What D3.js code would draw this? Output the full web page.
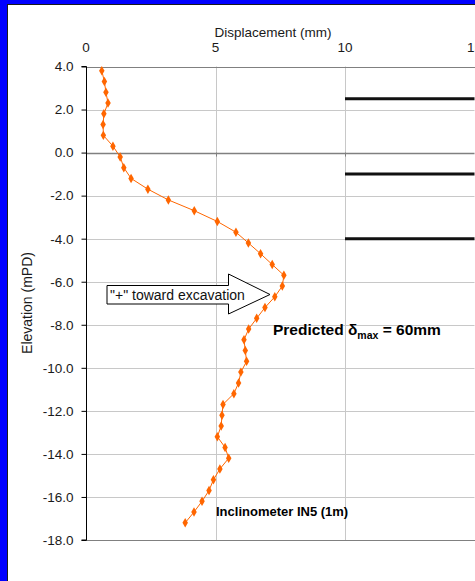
<!DOCTYPE html>
<html>
<head>
<meta charset="utf-8">
<script src="https://cdn.jsdelivr.net/npm/d3@7"></script>
<style>
  html, body { margin: 0; padding: 0; background: #0000ff; }
  svg { display: block; font-family: "Liberation Sans", Arial, sans-serif; }
</style>
</head>
<body>
<svg id="chart" width="475" height="581"></svg>
<script>
// Inclinometer IN5 readings
const elevation = [3.8, 3.3, 2.8, 2.3, 1.8, 1.3, 0.8, 0.3, -0.2, -0.7, -1.2, -1.7, -2.2, -2.7,
  -3.2, -3.7, -4.2, -4.7, -5.2, -5.7, -6.2, -6.7, -7.2, -7.7, -8.2,
  -8.7, -9.2, -9.7, -10.2, -10.7, -11.2, -11.7, -12.2, -12.7, -13.2, -13.7,
  -14.2, -14.7, -15.2, -15.7, -16.2, -16.7, -17.2];
const displacement = [0.61, 0.71, 0.77, 0.85, 0.69, 0.66, 0.67, 1.04, 1.32, 1.46, 1.74, 2.39, 3.18, 4.18,
  5.07, 5.79, 6.27, 6.74, 7.19, 7.64, 7.58, 7.29, 6.91, 6.59, 6.28,
  6.10, 6.15, 6.20, 5.98, 5.89, 5.71, 5.29, 5.25, 5.22, 5.07, 5.37,
  5.51, 5.17, 4.92, 4.75, 4.48, 4.17, 3.83];

// strut levels (drawn from 10 to 15 mm)
const strutLevels = [2.5, -1.0, -4.0];

const xTicks = [0, 5, 10, 15];
const yTicks = [4, 2, 0, -2, -4, -6, -8, -10, -12, -14, -16, -18];

const width = 475;
const height = 581;

const x = d3.scaleLinear().domain([0, 15]).range([86, 474.5]);
const y = d3.scaleLinear().domain([4, -18]).range([66.5, 540]);

const svg = d3.select("#chart");

// blue frame + white panel
svg.append("rect")
  .attr("width", width).attr("height", height)
  .attr("fill", "#0000ff");
svg.append("rect")
  .attr("x", 7.5).attr("y", 4.5)
  .attr("width", width).attr("height", height)
  .attr("fill", "#ffffff")
  .attr("stroke", "#1a1a1a");

// gridlines
svg.append("g").selectAll("line")
  .data(yTicks.filter(d => d !== 0 && d !== 4 && d !== -18))
  .join("line")
  .attr("x1", x(0)).attr("x2", x(15))
  .attr("y1", d => Math.round(y(d)) + 0.5).attr("y2", d => Math.round(y(d)) + 0.5)
  .attr("stroke", "#c8c8c8");

svg.append("g").selectAll("line")
  .data([5, 10])
  .join("line")
  .attr("x1", d => Math.round(x(d)) + 0.5).attr("x2", d => Math.round(x(d)) + 0.5)
  .attr("y1", y(4)).attr("y2", y(-18))
  .attr("stroke", "#c8c8c8");

// plot border (top, right, bottom)
svg.append("path")
  .attr("d", `M${x(0)},${Math.round(y(4)) + 0.5}H${Math.round(x(15)) + 0.5}V${Math.round(y(-18)) + 0.5}H${x(0)}`)
  .attr("fill", "none")
  .attr("stroke", "#808080");

// x axis line crosses at elevation 0, labels placed on top
svg.append("line")
  .attr("x1", x(0)).attr("x2", x(15))
  .attr("y1", Math.round(y(0)) + 0.5).attr("y2", Math.round(y(0)) + 0.5)
  .attr("stroke", "#808080").attr("stroke-width", 1.5);
svg.append("g").selectAll("line")
  .data(xTicks)
  .join("line")
  .attr("x1", d => Math.round(x(d)) + 0.5).attr("x2", d => Math.round(x(d)) + 0.5)
  .attr("y1", y(0)).attr("y2", y(0) + 4)
  .attr("stroke", "#808080");

svg.append("g").selectAll("text")
  .data(xTicks)
  .join("text")
  .attr("x", d => x(d))
  .attr("y", 52)
  .attr("text-anchor", "middle")
  .attr("font-size", "13.5px")
  .attr("fill", "#1a1a1a")
  .text(d => d);

svg.append("text")
  .attr("x", 273).attr("y", 37)
  .attr("text-anchor", "middle")
  .attr("font-size", "13.5px")
  .attr("fill", "#1a1a1a")
  .text("Displacement (mm)");

// y axis
const fmt = d3.format(".1f");
const yAxis = d3.axisLeft(y)
  .tickValues(yTicks)
  .tickSize(5)
  .tickFormat(d => fmt(d).replace("\u2212", "-"));

const yg = svg.append("g")
  .attr("transform", `translate(${Math.round(x(0)) + 0.5},0)`)
  .call(yAxis);
yg.select(".domain").attr("stroke", "#000").attr("d", `M-5,${y(4)}H0V${y(-18)}H-5`);
yg.selectAll(".tick line").attr("stroke", "#000");
yg.selectAll(".tick text")
  .attr("x", -13)
  .attr("font-size", "13.5px")
  .attr("font-family", "'Liberation Sans', Arial, sans-serif")
  .attr("fill", "#1a1a1a");

svg.append("text")
  .attr("transform", `translate(32,303) rotate(-90)`)
  .attr("text-anchor", "middle")
  .attr("font-size", "14px")
  .attr("fill", "#1a1a1a")
  .text("Elevation (mPD)");

// strut lines
svg.append("g").selectAll("line")
  .data(strutLevels)
  .join("line")
  .attr("x1", x(10)).attr("x2", x(15))
  .attr("y1", d => y(d)).attr("y2", d => y(d))
  .attr("stroke", "#111")
  .attr("stroke-width", 3);

// series
const points = elevation.map((e, i) => [displacement[i], e]);

svg.append("path")
  .datum(points)
  .attr("fill", "none")
  .attr("stroke", "#ff6600")
  .attr("stroke-width", 1)
  .attr("d", d3.line().x(d => x(d[0])).y(d => y(d[1])));

svg.append("g").selectAll("path")
  .data(points)
  .join("path")
  .attr("transform", d => `translate(${x(d[0])},${y(d[1])})`)
  .attr("d", d3.symbol().type(d3.symbolDiamond).size(26))
  .attr("fill", "#ff6600");

// block arrow annotation
const arrowPts = [[107, 285.5], [228.5, 285.5], [228.5, 274], [270, 294.5], [228.5, 314], [228.5, 304], [107, 304]];
svg.append("path")
  .attr("d", d3.line()(arrowPts) + "Z")
  .attr("fill", "#fff")
  .attr("stroke", "#000")
  .attr("stroke-width", 1);

svg.append("text")
  .attr("x", 110).attr("y", 299.5)
  .attr("font-size", "14px")
  .attr("fill", "#111")
  .text("\"+\" toward excavation");

// predicted text
const pred = svg.append("text")
  .attr("x", 273).attr("y", 335)
  .attr("font-size", "15.5px")
  .attr("font-weight", "bold")
  .attr("fill", "#000");
pred.append("tspan").text("Predicted δ");
pred.append("tspan").attr("font-size", "10.5px").attr("dy", 4).text("max");
pred.append("tspan").attr("dy", -4).text(" = 60mm");

svg.append("text")
  .attr("x", 216).attr("y", 516)
  .attr("font-size", "13px")
  .attr("font-weight", "bold")
  .attr("fill", "#000")
  .text("Inclinometer IN5 (1m)");
</script>
</body>
</html>
